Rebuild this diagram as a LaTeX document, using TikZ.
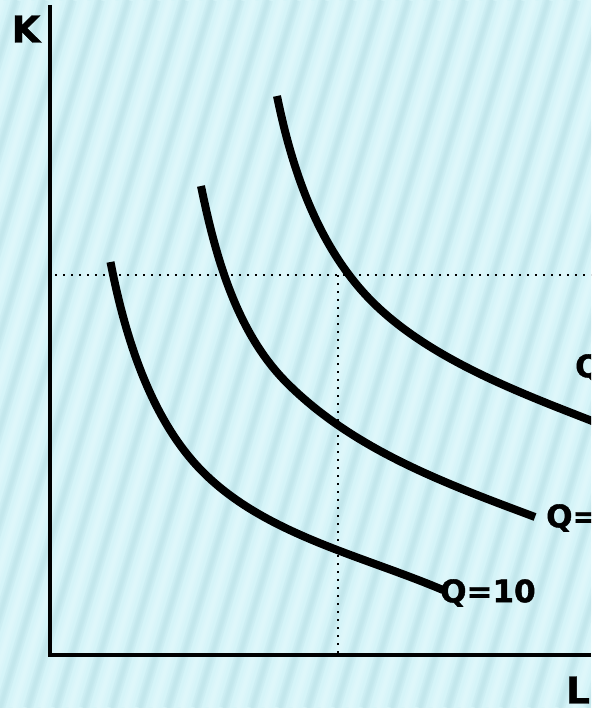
\documentclass[tikz,border=0pt]{standalone}
\usepackage{fontspec}
\setmainfont{DejaVu Sans}
\newfontfamily\heavyfont[FakeBold=1.2]{DejaVu Sans Bold}
\begin{document}
\begin{tikzpicture}[x=1pt,y=-1pt,
  curve/.style={line width=8pt,line join=round},
  axisline/.style={line width=4.5pt},
  guide/.style={line width=2.4pt,dash pattern=on 2.4pt off 5.6pt},
  lbl/.style={font=\heavyfont\fontsize{31}{31}\selectfont,inner sep=0pt,anchor=west},
  axlbl/.style={font=\heavyfont\fontsize{37}{37}\selectfont,inner sep=0pt}]
\definecolor{bgc}{HTML}{D5F4F8}
\definecolor{stripedark}{HTML}{B9DFE5}
\definecolor{stripelight}{HTML}{E6FBFD}
\useasboundingbox (0,0) rectangle (591,708);
\clip (0,0) rectangle (591,708);
\fill[bgc] (0,0) rectangle (591,708);
\foreach \i in {-10,...,24}{
  \foreach \w in {10,6,3}{
    \draw[stripedark,line width=\w pt,opacity=0.25] ({\i*28},708) -- ({\i*28+212},0);
    \draw[stripelight,line width=\w pt,opacity=0.28] ({\i*28+14},708) -- ({\i*28+14+212},0);
  }
}
% axes
\coordinate (O) at (50,655);
\coordinate (Ytop) at (50,5);
\coordinate (Xend) at (591,655);
\draw[axisline] (Ytop) -- (O) -- (Xend);
\node[axlbl] (K) at (26,29) {K};
\node[axlbl] (L) at (578,690) {L};
% guides
\coordinate (H0) at (55,275);
\coordinate (H1) at (591,275);
\coordinate (V0) at (338,275);
\coordinate (V1) at (338,655);
\draw[guide] (H0) -- (H1);
\draw[guide] (V0) -- (V1);
% curves
\coordinate (a0) at (110.5,262);
\coordinate (a1) at (200,469);
\coordinate (a2) at (443,590);
\draw[curve] (a0) .. controls (125.7,340.4) and (151.7,418.6) .. (a1)
                  .. controls (262.1,533.8) and (360.2,554.9) .. (a2);
\coordinate (b0) at (201,186);
\coordinate (b1) at (287,383);
\coordinate (b2) at (535,517);
\draw[curve] (b0) .. controls (216,259.5) and (237.5,333.5) .. (b1)
                  .. controls (354.2,450.2) and (446.1,483.7) .. (b2);
\coordinate (c0) at (277,96);
\coordinate (c1) at (363,292);
\coordinate (c2) at (610,428);
\draw[curve] (c0) .. controls (292,169.5) and (316.4,239.8) .. (c1)
                  .. controls (423,359.1) and (526.3,395) .. (c2);
\node[lbl] (q10) at (440,593) {Q=10};
\node[lbl] (q20) at (546,518) {Q=20};
\node[lbl] (q30) at (575,368) {Q=30};
\end{tikzpicture}
\end{document}
